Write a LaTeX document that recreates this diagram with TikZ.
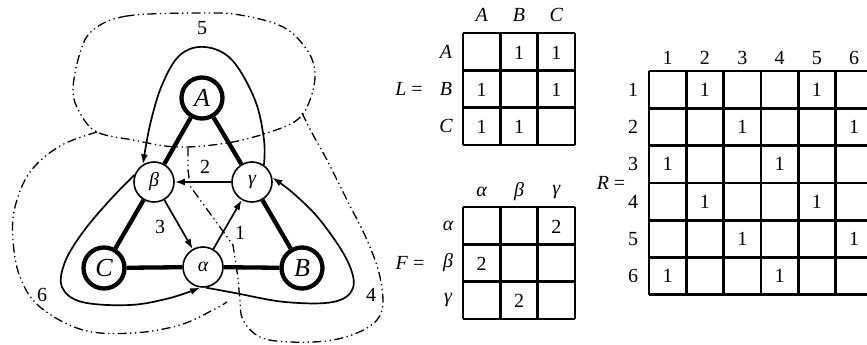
\documentclass[tikz,border=0pt]{standalone}
\usepackage{fontspec}
\setmainfont{Liberation Serif}
\usetikzlibrary{arrows.meta}
\begin{document}
\begin{tikzpicture}[x=1pt,y=-1pt,
  bignode/.style={circle,draw,line width=4.3pt,minimum size=41pt,inner sep=0pt,fill=white,font=\fontsize{26}{26}\selectfont\itshape},
  smallnode/.style={circle,draw,line width=1.6pt,minimum size=40pt,inner sep=0pt,fill=white,font=\fontsize{20}{20}\selectfont\itshape},
  thickedge/.style={line width=4.3pt},
  arr/.style={line width=1.7pt,-{Latex[length=10pt,width=7pt]}},
  region/.style={line width=1.3pt,dash pattern=on 9pt off 3.5pt on 1.3pt off 3.5pt on 1.3pt off 3.5pt},
  lbl/.style={font=\fontsize{20}{20}\selectfont},
  ilbl/.style={font=\fontsize{20}{20}\selectfont\itshape},
  mgrid/.style={line width=2.8pt},
]
\useasboundingbox (0,0) rectangle (867,345);

% regions
\draw[region] plot[smooth cycle,tension=0.6] coordinates {(200,13) (127,16) (93,30) (80,53) (73,90) (80,113) (97,132) (133,140) (177,147) (227,143) (267,133) (297,120) (310,100) (315,73) (307,50) (283,27) (240,15)};
\draw[region] plot[smooth,tension=0.6] coordinates {(97,132) (60,146) (30,172) (15,207) (13,240) (20,277) (40,307) (83,330) (133,333) (180,325) (213,310) (227,302)};
\draw[region] plot[smooth,tension=0.6] coordinates {(302,113) (312,133) (327,160) (347,200) (367,240) (380,277) (382,310) (367,328) (333,340) (290,342) (260,337) (243,320) (240,300) (238,278)} -- (233,245) -- (190,186) -- (188,170) -- (188,147);

% nodes
\node[bignode] (A) at (202,98) {A};
\node[bignode] (C) at (104,268) {C};
\node[bignode] (B) at (302,268) {B};
\node[smallnode] (be) at (154,182) {β};
\node[smallnode] (ga) at (252,182) {γ};
\node[smallnode] (al) at (203,267) {α};

% thick edges
\draw[thickedge] (A) -- (be);
\draw[thickedge] (A) -- (ga);
\draw[thickedge] (be) -- (C);
\draw[thickedge] (ga) -- (B);
\draw[thickedge] (C) -- (al);
\draw[thickedge] (al) -- (B);

% arrows
\draw[arr] (ga) -- (be);
\draw[arr] (be) -- (al);
\draw[arr] (al) -- (ga);

% loops
\draw[arr] plot[smooth,tension=0.6] coordinates {(ga.55) (264,140) (255,100) (232,60) (205,47) (180,55) (162,85) (150,125) (be.122)};
\draw[arr] plot[smooth,tension=0.6] coordinates {(be.160) (110,200) (83,232) (65,262) (62,287) (82,302) (130,305) (170,298) (al.262)};
\draw[arr] plot[smooth,tension=0.6] coordinates {(al.278) (235,293) (285,302) (333,302) (353,288) (347,260) (320,220) (293,193) (ga.12)};

% labels
\node[lbl] (l5) at (202,28) {5};
\node[lbl] (l2) at (205,167) {2};
\node[lbl] (l3) at (160,227) {3};
\node[lbl] (l1) at (240,233) {1};
\node[lbl] (l6) at (42,295) {6};
\node[lbl] (l4) at (371,295) {4};

% matrix L
\def\cw{37.33}
\node[lbl] (Leq) at (409,89) {\textit{L} =};
\foreach \i/\t in {1/A,2/B,3/C}{
  \node[ilbl] (Lc\i) at ({463+\cw*(\i-0.5)},15) {\t};
  \node[ilbl] (Lr\i) at (446,{33+\cw*(\i-0.5)}) {\t};
}
\foreach \k in {0,1,2,3}{
  \draw[mgrid] ({463+\cw*\k},33) -- ({463+\cw*\k},{33+3*\cw});
  \draw[mgrid] (463,{33+\cw*\k}) -- ({463+3*\cw},{33+\cw*\k});
}
\foreach \r/\c in {1/2,1/3,2/1,2/3,3/1,3/2}{
  \node[lbl] at ({463+\cw*(\c-0.5)},{33+\cw*(\r-0.5)+1}) {1};
}

% matrix F
\node[lbl] (Feq) at (410,263) {\textit{F} =};
\foreach \i/\t in {1/α,2/β,3/γ}{
  \node[ilbl] (Fc\i) at ({463+\cw*(\i-0.5)},192) {\t};
  \node[ilbl] (Fr\i) at (448,{207+\cw*(\i-0.5)}) {\t};
}
\foreach \k in {0,1,2,3}{
  \draw[mgrid] ({463+\cw*\k},207) -- ({463+\cw*\k},{207+3*\cw});
  \draw[mgrid] (463,{207+\cw*\k}) -- ({463+3*\cw},{207+\cw*\k});
}
\foreach \r/\c in {1/3,2/1,3/2}{
  \node[lbl] at ({463+\cw*(\c-0.5)},{207+\cw*(\r-0.5)+1}) {2};
}

% matrix R
\def\rw{37.3}
\node[lbl] (Req) at (611,183) {\textit{R} =};
\foreach \i in {1,...,6}{
  \node[lbl] (Rc\i) at ({649+\rw*(\i-0.5)},58) {\i};
  \node[lbl] (Rr\i) at (633,{71+\rw*(\i-0.5)}) {\i};
}
\foreach \k in {0,...,6}{
  \draw[mgrid] ({649+\rw*\k},71) -- ({649+\rw*\k},{71+6*\rw});
  \draw[mgrid] (649,{71+\rw*\k}) -- ({649+6*\rw},{71+\rw*\k});
}
\foreach \r/\c in {1/2,1/5,2/3,2/6,3/1,3/4,4/2,4/5,5/3,5/6,6/1,6/4}{
  \node[lbl] at ({649+\rw*(\c-0.5)},{71+\rw*(\r-0.5)}) {1};
}
\end{tikzpicture}
\end{document}
